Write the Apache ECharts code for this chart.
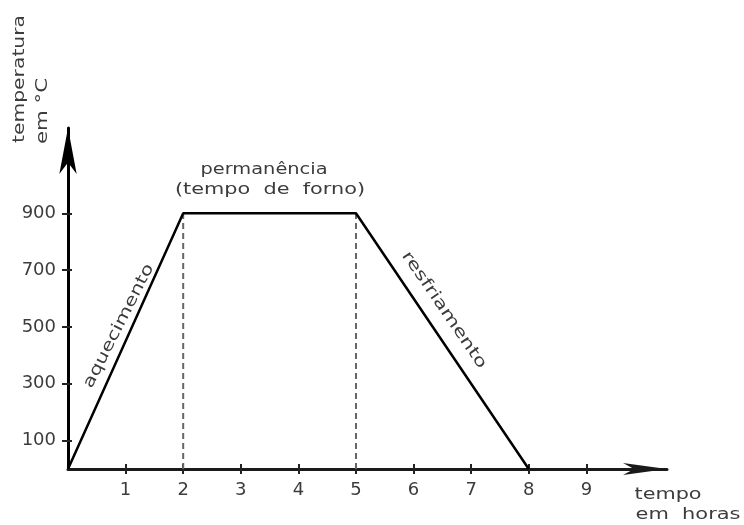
<!DOCTYPE html>
<html>
<head>
<meta charset="utf-8">
<script src="https://cdn.jsdelivr.net/npm/echarts@6/dist/echarts.min.js"></script>
<style>
  html, body { margin: 0; padding: 0; background: #fff; }
  #chart { width: 744px; height: 525px; }
</style>
</head>
<body>
<div id="chart"></div>
<script>
// Furnace cycle: heating, holding, cooling
const hours = [0, 2, 5, 8];
const temps = [0, 900, 900, 0];
const holdMarks = [2, 5];          // dashed guides at start/end of holding
const holdTemp = 900;
const xTicks = [1, 2, 3, 4, 5, 6, 7, 8, 9];
const yTicks = [100, 300, 500, 700, 900];

const FONT = 'DejaVu Sans';
const TXT = '#3c3c3c';

const chart = echarts.init(document.getElementById('chart'), null, { renderer: 'canvas' });

// Lettering on the drawing is wide; stretch a text to a given length.
const measureCtx = document.createElement('canvas').getContext('2d');
function stretchedText(text, x, y, length, size, angleDeg) {
  const font = size + 'px ' + FONT;
  measureCtx.font = font;
  const w = measureCtx.measureText(text).width;
  return {
    type: 'text', x: x, y: y,
    rotation: (angleDeg || 0) * Math.PI / 180,
    scaleX: length / w, scaleY: 1,
    style: { text: text, fill: TXT, font: font, textAlign: 'center', textVerticalAlign: 'middle' },
    z: 10
  };
}

const profile = hours.map((h, i) => [h, temps[i]]);
const guides = holdMarks.map(h => ({
  type: 'line',
  data: [[h, 0], [h, holdTemp]],
  symbol: 'none',
  silent: true,
  lineStyle: { color: '#666', width: 2, type: [6, 4] },
  z: 2
}));

const hiddenAxisBits = {
  axisLine: { show: false },
  axisLabel: { show: false },
  splitLine: { show: false }
};

chart.setOption({
  animation: false,
  grid: { left: 68, top: 128, width: 599, height: 341 },
  xAxis: [{
    type: 'value', min: 0, max: 10.4,
    axisLine: { show: true, symbol: ['none', 'arrow'], symbolSize: [9, 44], symbolOffset: [0, 0],
      lineStyle: { color: '#1a1a1a', width: 3 } },
    axisTick: { show: true, customValues: xTicks, length: 5, lineStyle: { color: '#222', width: 2 } },
    axisLabel: { customValues: xTicks, margin: 12, color: TXT, fontFamily: FONT, fontSize: 18 },
    splitLine: { show: false }
  }, Object.assign({
    type: 'value', min: 0, max: 10.4, position: 'bottom',
    axisTick: { show: true, inside: true, customValues: xTicks, length: 5, lineStyle: { color: '#222', width: 2 } }
  }, hiddenAxisBits)],
  yAxis: [{
    type: 'value', min: 0, max: 1200,
    axisLine: { show: true, symbol: ['none', 'arrow'], symbolSize: [13, 46], symbolOffset: [0, 0],
      lineStyle: { color: '#000', width: 3 } },
    axisTick: { show: true, customValues: yTicks, length: 6, lineStyle: { color: '#222', width: 2 } },
    axisLabel: { customValues: yTicks, margin: 12, color: TXT, fontFamily: FONT, fontSize: 18 },
    splitLine: { show: false }
  }, Object.assign({
    type: 'value', min: 0, max: 1200, position: 'left',
    axisTick: { show: true, inside: true, customValues: yTicks, length: 4, lineStyle: { color: '#222', width: 2 } }
  }, hiddenAxisBits)],
  series: [{
    type: 'line',
    data: profile,
    symbol: 'none',
    lineStyle: { color: '#000', width: 2.5 },
    z: 3
  }].concat(guides),
  graphic: [
    // vertical axis title, reading upward
    stretchedText('temperatura', 20, 79, 128, 16, 90),
    stretchedText('em °C', 43, 111, 66, 16, 90),
    // horizontal axis title
    stretchedText('tempo', 668, 495, 67, 16),
    stretchedText('em  horas', 688, 515, 105, 16),
    // phase annotations
    stretchedText('permanência', 264, 170, 127, 16),
    stretchedText('(tempo  de  forno)', 270, 190, 190, 16),
    stretchedText('aquecimento', 119, 326, 137, 16, 63),
    stretchedText('resfriamento', 444, 310, 138, 16, -55.6)
  ]
});
</script>
</body>
</html>
